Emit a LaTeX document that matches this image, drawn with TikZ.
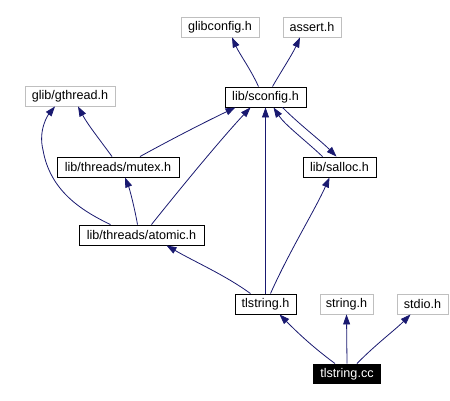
\documentclass[tikz,border=0pt]{standalone}
\usepackage{fontspec}
\setmainfont{Liberation Sans}
\usetikzlibrary{arrows.meta}
\definecolor{edgecol}{HTML}{191970}
\definecolor{graybox}{HTML}{BFBFBF}
\begin{document}
\begin{tikzpicture}[x=1pt,y=-1pt,
  base/.style={inner sep=0pt, minimum height=20pt, font=\fontsize{12.6}{14}\selectfont, line width=0.9pt},
  filebox/.style={base, draw=black},
  extbox/.style={base, draw=graybox},
  curbox/.style={base, fill=black, text=white},
  dep/.style={draw=edgecol, line width=0.8pt, -{Triangle[length=10pt,width=7pt]}}]
\useasboundingbox (0,0) rectangle (450,401);
\node[extbox, minimum width=78pt] (glibconfig) at (220,27) {glibconfig.h};
\node[extbox, minimum width=58pt] (assert) at (312,27) {assert.h};
\node[filebox, minimum width=81pt] (sconfig) at (265.5,97) {lib/sconfig.h};
\node[extbox, minimum width=90pt] (gthread) at (70,96) {glib/gthread.h};
\node[filebox, minimum width=122pt] (mutex) at (118,167) {lib/threads/mutex.h};
\node[filebox, minimum width=125pt] (atomic) at (141.5,235) {lib/threads/atomic.h};
\node[filebox, minimum width=73pt] (salloc) at (339.5,167) {lib/salloc.h};
\node[filebox, minimum width=61pt] (tlh) at (265.5,304) {tlstring.h};
\node[extbox, minimum width=53pt] (string) at (346.5,304) {string.h};
\node[extbox, minimum width=51pt] (stdio) at (422.5,304) {stdio.h};
\node[curbox, minimum width=68pt] (tlcc) at (347,374) {tlstring.cc};
% tlstring.cc
\draw[dep] ([xshift=-12pt]tlcc.north) .. controls (310,345) and (295,330) .. ([xshift=14pt]tlh.south);
\draw[dep] (tlcc.north) -- (string.south);
\draw[dep] ([xshift=10pt]tlcc.north) .. controls (375,345) and (395,330) .. ([xshift=-12pt]stdio.south);
% tlstring.h
\draw[dep] (tlh.north) -- (sconfig.south);
\draw[dep] ([xshift=5pt]tlh.north) .. controls (290,250) and (315,210) .. ([xshift=-10pt]salloc.south);
\draw[dep] ([xshift=-15pt]tlh.north) .. controls (225,275) and (195,262) .. ([xshift=25pt]atomic.south);
% atomic
\draw[dep] ([xshift=-31pt]atomic.north) .. controls (80,210) and (50,190) .. (43,150) .. controls (38,130) and (48,115) .. ([xshift=-15pt]gthread.south);
\draw[dep] ([xshift=-4pt]atomic.north) .. controls (135,210) and (130,190) .. ([xshift=7pt]mutex.south);
\draw[dep] ([xshift=10pt]atomic.north) .. controls (175,195) and (220,140) .. ([xshift=-15pt]sconfig.south);
% mutex
\draw[dep] ([xshift=-6pt]mutex.north) .. controls (100,140) and (88,125) .. ([xshift=8pt]gthread.south);
\draw[dep] ([xshift=22pt]mutex.north) .. controls (170,140) and (205,122) .. ([xshift=-30pt]sconfig.south);
% salloc <-> sconfig
\draw[dep] ([xshift=-17pt]salloc.north) .. controls (305,140) and (285,125) .. ([xshift=8pt]sconfig.south);
\draw[dep] ([xshift=17pt]sconfig.south) .. controls (300,125) and (320,140) .. ([xshift=-3pt]salloc.north);
% sconfig
\draw[dep] ([xshift=-7pt]sconfig.north) .. controls (250,68) and (240,55) .. ([xshift=12pt]glibconfig.south);
\draw[dep] ([xshift=7pt]sconfig.north) .. controls (282,70) and (292,55) .. ([xshift=-12pt]assert.south);
\end{tikzpicture}
\end{document}
